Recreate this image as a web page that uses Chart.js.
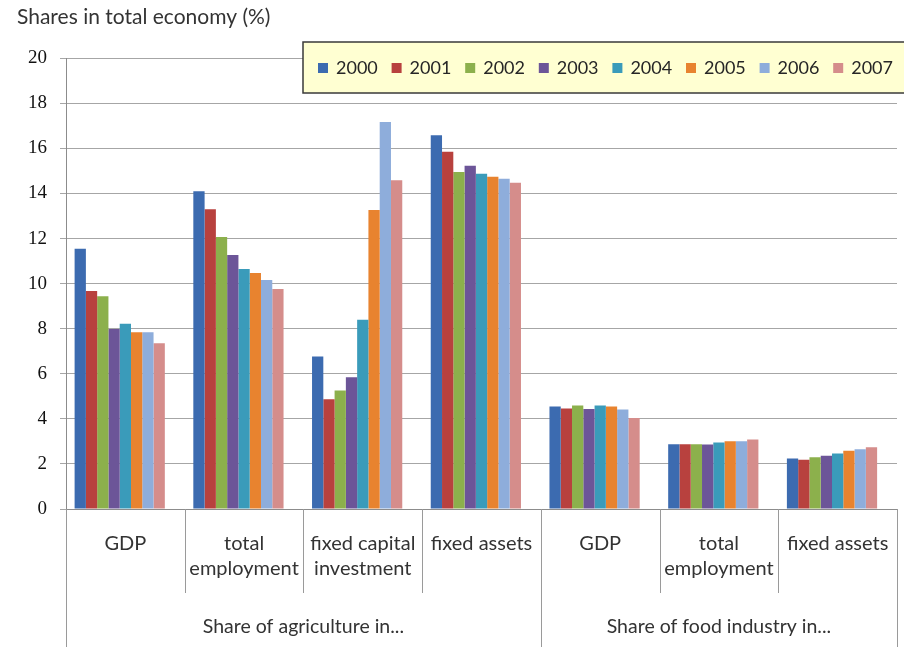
<!DOCTYPE html>
<html>
<head>
<meta charset="utf-8">
<title>Shares in total economy</title>
<script src="https://cdn.jsdelivr.net/npm/chart.js@4.4.1/dist/chart.umd.min.js"></script>
<style>
    html, body { margin: 0; padding: 0; background: #ffffff; }
    #wrap { width: 904px; height: 647px; }
</style>
</head>
<body>
<div id="wrap"><canvas id="shares-chart" width="904" height="647"></canvas></div>
<script>
// categories on the x axis (two levels)
var categories = [['GDP'], ['total', 'employment'], ['fixed capital', 'investment'], ['fixed assets'],
                  ['GDP'], ['total', 'employment'], ['fixed assets']];
var groupLabels = ['Share of agriculture in...', 'Share of food industry in...'];
var groupSizes = [4, 3];

var years = ['2000', '2001', '2002', '2003', '2004', '2005', '2006', '2007'];
var yearColors = ['#3c6bb0', '#b8413e', '#8cb04c', '#6c5598', '#3a9bba', '#e8832f', '#8eaddb', '#d58d8b'];

// shares in %, one value per category
var share2000 = [11.55, 14.1, 6.77, 16.58, 4.55, 2.87, 2.24];
var share2001 = [9.67, 13.3, 4.87, 15.85, 4.46, 2.87, 2.18];
var share2002 = [9.44, 12.07, 5.26, 14.95, 4.59, 2.87, 2.3];
var share2003 = [7.99, 11.27, 5.85, 15.23, 4.44, 2.86, 2.36];
var share2004 = [8.22, 10.65, 8.4, 14.87, 4.59, 2.95, 2.46];
var share2005 = [7.84, 10.47, 13.26, 14.74, 4.55, 3.01, 2.58];
var share2006 = [7.84, 10.16, 17.17, 14.65, 4.41, 3.01, 2.65];
var share2007 = [7.35, 9.76, 14.58, 14.47, 4.04, 3.08, 2.74];
var yearShares = [share2000, share2001, share2002, share2003, share2004, share2005, share2006, share2007];

var yTicks = [0, 2, 4, 6, 8, 10, 12, 14, 16, 18, 20];

document.addEventListener('DOMContentLoaded', function() {
    var datasets = years.map(function(year, i) {
        return {
            label: year,
            data: yearShares[i],
            backgroundColor: yearColors[i],
            borderWidth: 0
        };
    });
    // empty slot at the end of each cluster, as in the original the bars sit left of centre
    datasets.push({ label: '', data: [], backgroundColor: 'rgba(0,0,0,0)' });

    // two-level category axis: separators and group captions
    var groupAxisPlugin = {
        id: 'groupAxis',
        afterDraw: function(chart) {
            var ctx = chart.ctx;
            var x = chart.scales.x;
            var area = chart.chartArea;
            var n = categories.length;
            var w = (x.right - x.left) / n;
            var bottom = chart.height;
            var groupEdges = [0];
            groupSizes.forEach(function(s) { groupEdges.push(groupEdges[groupEdges.length - 1] + s); });

            ctx.save();
            ctx.strokeStyle = '#9a9a9a';
            ctx.lineWidth = 1;
            for (var i = 0; i <= n; i++) {
                var px = Math.round(x.getPixelForValue(Math.min(i, n - 1)) + (i === n ? w / 2 : -w / 2)) + 0.5;
                var isGroupEdge = groupEdges.indexOf(i) !== -1;
                ctx.beginPath();
                ctx.moveTo(px, area.bottom);
                ctx.lineTo(px, isGroupEdge ? bottom : 593);
                ctx.stroke();
            }

            ctx.fillStyle = '#333333';
            ctx.font = '19.5px Lato';
            ctx.textAlign = 'center';
            ctx.textBaseline = 'middle';
            var start = 0;
            groupLabels.forEach(function(label, g) {
                var x0 = x.getPixelForValue(start) - w / 2;
                var x1 = x.getPixelForValue(start + groupSizes[g] - 1) + w / 2;
                ctx.fillText(label, (x0 + x1) / 2, 627);
                start += groupSizes[g];
            });
            ctx.restore();
        }
    };

    // boxed legend floating over the top of the plot
    var boxLegendPlugin = {
        id: 'boxLegend',
        afterDraw: function(chart) {
            var ctx = chart.ctx;
            ctx.save();
            ctx.fillStyle = '#ffffd2';
            ctx.fillRect(303, 42, 610, 51);
            ctx.strokeStyle = '#3a3a3a';
            ctx.lineWidth = 1.5;
            ctx.strokeRect(303, 42, 610, 51);
            ctx.font = '18px Lato';
            ctx.textBaseline = 'middle';
            ctx.textAlign = 'left';
            for (var i = 0; i < years.length; i++) {
                var ds = chart.data.datasets[i];
                var lx = 318 + i * 73.6;
                ctx.fillStyle = ds.backgroundColor;
                ctx.fillRect(lx, 63, 10, 10);
                ctx.fillStyle = '#262626';
                ctx.fillText(ds.label, lx + 18, 68);
            }
            ctx.restore();
        }
    };

    var ctxShares = document.getElementById('shares-chart').getContext('2d');
    new Chart(ctxShares, {
        type: 'bar',
        data: {
            labels: categories,
            datasets: datasets
        },
        plugins: [groupAxisPlugin, boxLegendPlugin],
        options: {
            responsive: false,
            animation: false,
            devicePixelRatio: 1,
            layout: {
                padding: { left: 17, right: 7, top: 0, bottom: 0 }
            },
            datasets: {
                bar: { categoryPercentage: 0.855, barPercentage: 1.0 }
            },
            plugins: {
                legend: { display: false },
                tooltip: { enabled: false },
                title: {
                    display: true,
                    text: 'Shares in total economy (%)',
                    align: 'start',
                    color: '#333333',
                    font: { family: 'Lato', size: 21, weight: 'normal' },
                    padding: { top: 5, bottom: 28 }
                }
            },
            scales: {
                x: {
                    grid: { display: false },
                    border: { display: true, color: '#8c8c8c' },
                    ticks: {
                        color: '#333333',
                        font: { family: 'Lato', size: 20, lineHeight: 1.25 },
                        padding: 14,
                        maxRotation: 0,
                        autoSkip: false
                    },
                    afterFit: function(scale) { scale.height = 138; }
                },
                y: {
                    min: 0,
                    max: 20,
                    afterBuildTicks: function(scale) {
                        scale.ticks = yTicks.map(function(v) { return { value: v }; });
                    },
                    grid: { color: '#a6a6a6', tickLength: 6 },
                    border: { display: true, color: '#8c8c8c' },
                    ticks: {
                        color: '#111111',
                        font: { family: 'Liberation Serif', size: 19 },
                        padding: 13
                    },
                    afterFit: function(scale) { scale.width = 49; }
                }
            }
        }
    });
});
</script>
</body>
</html>
